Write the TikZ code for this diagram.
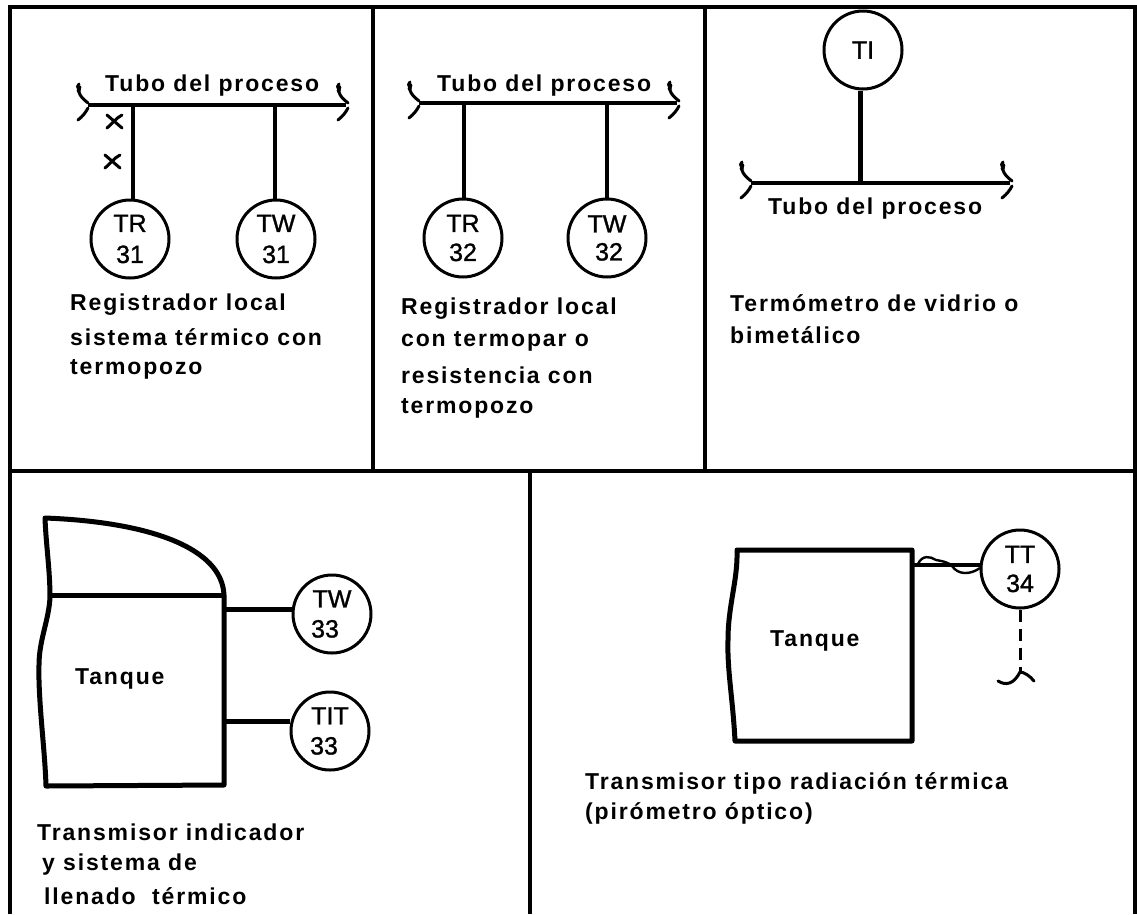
\documentclass[tikz,border=0pt]{standalone}
\usepackage{fontspec}
\setmainfont{Liberation Sans}
\newfontfamily\lblfont[LetterSpace=8]{Liberation Sans Bold}
\newfontfamily\tagfont[FakeBold=1.2]{Liberation Sans}
\begin{document}
\begin{tikzpicture}[x=1pt,y=-1pt,
  frameline/.style={line width=3.4pt,black},
  pipeline/.style={line width=3.6pt,black},
  stem/.style={line width=3.2pt,black},
  thickline/.style={line width=5pt,black},
  tankline/.style={line width=5pt,black,line join=round},
  instr/.style={circle,draw,line width=3pt,minimum size=78pt,inner sep=0pt,fill=white,align=center,font=\tagfont\fontsize{25}{31}\selectfont},
  lbl/.style={anchor=west,inner sep=0pt,font=\lblfont\fontsize{23}{26}\selectfont},
  curl/.style={line width=3pt,black,line cap=round},
  pics/pipeend/.style={code={
    \draw[curl] (-9,-21) .. controls (-13,-17) and (-7,-16) .. (-9,-13) .. controls (-8,-9) and (-5,-6) .. (0,-2);
    \draw[curl] (-8,-18) -- (-10,-14);
    \draw[curl] (0,3) .. controls (-2,7) and (-5,11) .. (-10,15);
  }}
]
\useasboundingbox (0,0) rectangle (1137,914);
\fill[white] (0,0) rectangle (1137,914);
% frame
\coordinate (ftl) at (10,7);
\coordinate (ftr) at (1135,7);
\coordinate (fbl) at (10,914);
\coordinate (fbr) at (1135,914);
\draw[frameline] (fbl) -- (ftl) -- (ftr) -- (fbr);
\draw[frameline] (10,471) -- (1135,471);
\draw[frameline] (373,7) -- (373,471);
\draw[frameline] (705,7) -- (705,471);
\draw[frameline] (530,471) -- (530,914);

% panel 1
\coordinate (p1a) at (88,105);
\coordinate (p1b) at (346,105);
\coordinate (p1s1) at (133,105);
\coordinate (p1s2) at (275,105);
\draw[pipeline] (p1a) -- (p1b);
\pic at (88,105) {pipeend};
\pic at (348,105) {pipeend};
\node[lbl] (t1) at (105,86) {Tubo del proceso};
\node[instr] (tr31) at (130,239) {TR\\31};
\node[instr] (tw31) at (276,239) {TW\\31};
\draw[stem] (p1s1) -- (p1s1 |- tr31.north);
\draw[stem] (p1s2) -- (p1s2 |- tw31.north);
\draw[curl] (107,115) -- (122,128) (107,128) .. controls (112,124) and (116,118) .. (122,115);
\draw[curl] (105,155) -- (120,168) (105,168) .. controls (110,164) and (114,158) .. (120,155);
\node[lbl] (d1a) at (70,305) {Registrador local};
\node[lbl] (d1b) at (70,337) {sistema térmico con};
\node[lbl] (d1c) at (70,369) {termopozo};

% panel 2
\coordinate (p2a) at (419,103);
\coordinate (p2b) at (677,103);
\coordinate (p2s1) at (464,103);
\coordinate (p2s2) at (607,103);
\draw[pipeline] (p2a) -- (p2b);
\pic at (419,103) {pipeend};
\pic at (679,103) {pipeend};
\node[lbl] (t2) at (437,86) {Tubo del proceso};
\node[instr] (tr32) at (463,238) {TR\\[-2pt]32};
\node[instr] (tw32) at (607,238) {TW\\[-3pt]\hspace*{4pt}32};
\draw[stem] (p2s1) -- (p2s1 |- tr32.north);
\draw[stem] (p2s2) -- (p2s2 |- tw32.north);
\node[lbl] (d2a) at (401,309) {Registrador local};
\node[lbl] (d2b) at (401,341) {con termopar o};
\node[lbl] (d2c) at (401,375) {resistencia con};
\node[lbl] (d2d) at (401,408) {termopozo};

% panel 3
\coordinate (p3a) at (751,183);
\coordinate (p3b) at (1010,183);
\coordinate (p3s) at (860,183);
\draw[pipeline] (p3a) -- (p3b);
\pic at (751,183) {pipeend};
\pic at (1012,183) {pipeend};
\node[instr] (ti) at (863,50) {TI};
\draw[thickline] (p3s) -- (p3s |- ti.south);
\node[lbl] (t3) at (768,209) {Tubo del proceso};
\node[lbl] (d3a) at (730,303) {Termómetro de vidrio o};
\node[lbl] (d3b) at (730,335) {bimetálico};

% panel 4
\coordinate (k1) at (224,595);
\coordinate (k2) at (224,609);
\coordinate (k3) at (224,721);
\draw[tankline] (224,785) -- (k1) .. controls (222,548) and (150,522) .. (45,518)
  .. controls (46,545) and (50,570) .. (50,597) .. controls (49,620) and (39,640) .. (39,665)
  .. controls (38,700) and (45,750) .. (46,786) -- cycle;
\draw[thickline] (50,595) -- (k1);
\node[instr] (tw33) at (332,614) {TW\\[-1pt]\hspace*{-14pt}33};
\node[instr] (tit33) at (330,731) {TIT\\[-1pt]\hspace*{-12pt}33};
\draw[thickline] (k2) -- (k2 -| tw33.west);
\draw[thickline] (k3) -- (k3 -| tit33.west);
\node[lbl] (tq1) at (75,679) {Tanque};
\node[lbl] (d4a) at (37,832) {Transmisor indicador};
\node[lbl] (d4b) at (42,865) {y sistema de};
\node[lbl] (d4c) at (44,896) {llenado\ \ térmico};

% panel 5
\coordinate (k5) at (912,565);
\draw[tankline] (737,550) -- (912,550) -- (912,741) -- (735,741) .. controls (733,700) and (727,670) .. (728,640)
  .. controls (728,605) and (738,580) .. (737,550) -- cycle;
\node[instr] (tt34) at (1020,569) {TT\\[-2pt]34};
\draw[line width=4pt] (k5) -- (tt34.west |- k5);
\draw[line width=2.4pt] (918,564) .. controls (922,555) and (930,556) .. (936,560) .. controls (942,561) and (948,562) .. (952,566)
  .. controls (958,575) and (970,575) .. (980,568);
\coordinate (d34) at (1020,672);
\draw[line width=3pt,dash pattern=on 12pt off 7pt] (tt34.south) -- (d34);
\draw[curl] (998,681) .. controls (1006,686) and (1014,684) .. (1020,672) .. controls (1024,672) and (1030,676) .. (1034,681);
\node[lbl] (tq2) at (770,641) {Tanque};
\node[lbl] (d5a) at (585,783) {Transmisor tipo radiación térmica};
\node[lbl] (d5b) at (585,813) {(pirómetro óptico)};
\end{tikzpicture}
\end{document}
